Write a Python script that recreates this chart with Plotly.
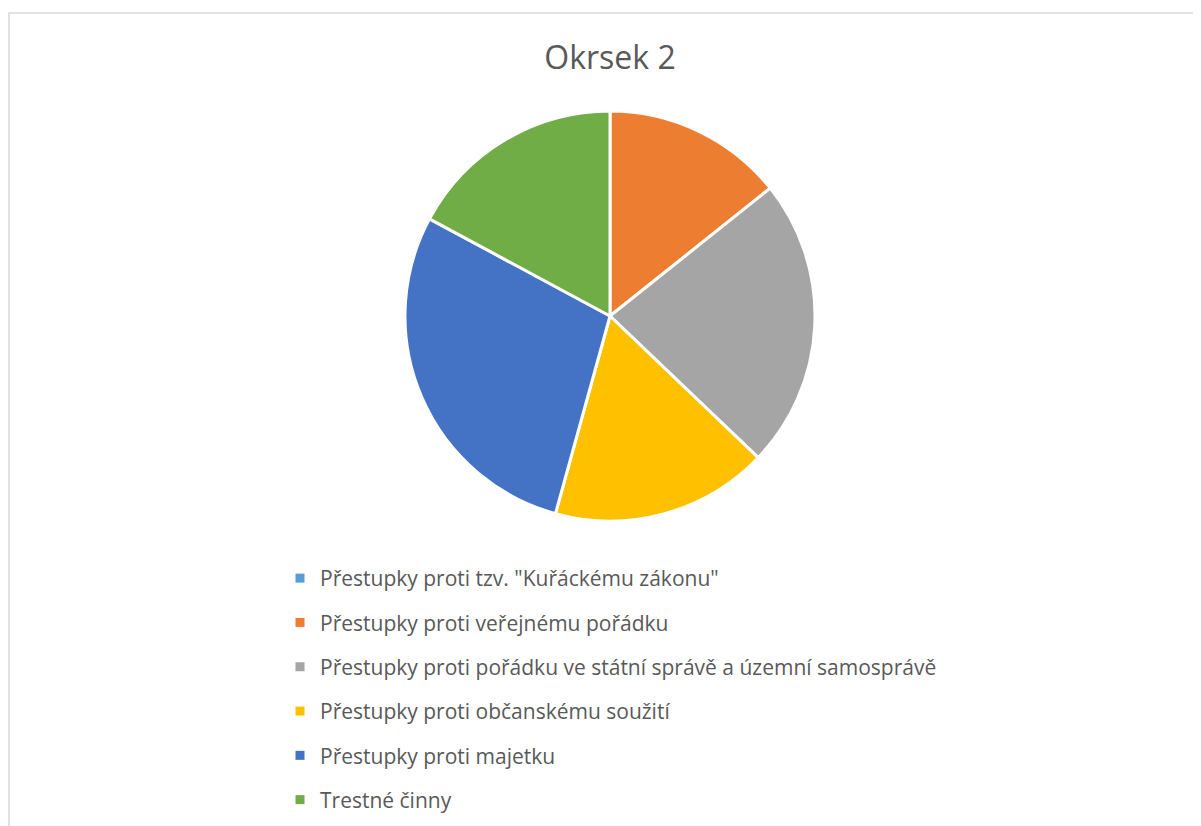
import plotly.graph_objects as go

categories = [
    'Přestupky proti tzv. "Kuřáckému zákonu"',
    "Přestupky proti veřejnému pořádku",
    "Přestupky proti pořádku ve státní správě a územní samosprávě",
    "Přestupky proti občanskému soužití",
    "Přestupky proti majetku",
    "Trestné činny",
]
values = [0, 5, 8, 6, 10, 6]
colors = ["#5B9BD5", "#ED7D31", "#A5A5A5", "#FFC000", "#4472C4", "#70AD47"]
title = "Okrsek 2"

OFF = 8  # page body margin
W, H = 1201 - OFF, 826 - OFF


def px(x):
    return (x - OFF) / W


def py(y):
    return 1 - (y - OFF) / H


fig = go.Figure()

# pie area: center ~ (610, 317), radius ~205 (page coords)
fig.add_trace(go.Pie(
    labels=categories, values=values, sort=False, direction="clockwise", rotation=0,
    marker=dict(colors=colors, line=dict(color="white", width=3)),
    textinfo="none", hoverinfo="label+value+percent", showlegend=False,
    domain=dict(x=[px(405), px(815)], y=[py(521), py(111)]),
))

# legend entries
for name, col in zip(categories, colors):
    fig.add_trace(go.Scatter(
        x=[None], y=[None], mode="markers", name=name, legendgroup=name,
        marker=dict(symbol="square", size=9, color=col), showlegend=True,
    ))

fig.update_layout(
    width=W, height=H,
    margin=dict(l=0, r=0, t=0, b=0),
    paper_bgcolor="white", plot_bgcolor="white",
    xaxis=dict(visible=False), yaxis=dict(visible=False),
    title=dict(text=title, x=px(610), xanchor="center", y=py(58), yanchor="middle",
               font=dict(family="Open Sans", size=32, color="#595959")),
    legend=dict(x=px(280), xanchor="left", y=py(558), yanchor="top",
                font=dict(family="Open Sans", size=21, color="#595959"),
                tracegroupgap=14, bgcolor="rgba(0,0,0,0)", itemclick=False),
    shapes=[dict(type="rect", xref="paper", yref="paper",
                 x0=px(9), x1=1.02, y0=-0.02, y1=py(13),
                 line=dict(color="#D9D9D9", width=1.5), fillcolor="rgba(0,0,0,0)", layer="below")],
)

fig.write_html("out.html")
